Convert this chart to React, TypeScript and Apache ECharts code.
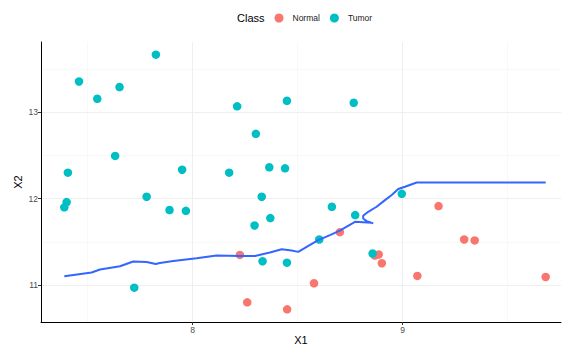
import { useEffect, useRef } from "react";
import * as echarts from "echarts";

// Sample measurements, one [X1, X2] pair per sample
const normalPoints: [number, number][] = [
  [8.225, 11.351],
  [8.26, 10.803],
  [8.45, 10.722],
  [8.578, 11.023],
  [8.701, 11.614],
  [9.171, 11.915],
  [9.293, 11.529],
  [9.343, 11.518],
  [8.868, 11.344],
  [8.886, 11.356],
  [8.901, 11.255],
  [9.07, 11.108],
  [9.681, 11.096],
];

const tumorPoints: [number, number][] = [
  [7.825, 13.664],
  [7.459, 13.354],
  [7.546, 13.154],
  [7.652, 13.29],
  [8.212, 13.067],
  [8.449, 13.131],
  [8.767, 13.108],
  [8.301, 12.749],
  [7.631, 12.494],
  [7.406, 12.301],
  [7.95, 12.335],
  [8.174, 12.301],
  [8.365, 12.363],
  [8.44, 12.351],
  [7.4, 11.961],
  [7.389, 11.9],
  [7.781, 12.023],
  [8.329, 12.023],
  [7.89, 11.869],
  [7.968, 11.86],
  [8.663, 11.907],
  [8.774, 11.811],
  [8.37, 11.776],
  [8.295, 11.691],
  [8.996, 12.056],
  [8.603, 11.529],
  [8.333, 11.278],
  [8.449, 11.261],
  [7.722, 10.973],
  [8.857, 11.367],
];

// Decision boundary between the two classes, traced in order
const boundary: [number, number][] = [
  [7.389, 11.104],
  [7.519, 11.147],
  [7.559, 11.182],
  [7.654, 11.22],
  [7.717, 11.274],
  [7.781, 11.27],
  [7.824, 11.247],
  [7.844, 11.258],
  [7.908, 11.281],
  [8.019, 11.313],
  [8.114, 11.344],
  [8.225, 11.339],
  [8.297, 11.339],
  [8.368, 11.379],
  [8.424, 11.417],
  [8.471, 11.402],
  [8.503, 11.386],
  [8.543, 11.444],
  [8.598, 11.521],
  [8.654, 11.579],
  [8.701, 11.631],
  [8.773, 11.733],
  [8.852, 11.721],
  [8.86, 11.715],
  [8.829, 11.741],
  [8.812, 11.772],
  [8.812, 11.803],
  [8.836, 11.849],
  [8.876, 11.907],
  [8.916, 11.984],
  [8.948, 12.042],
  [8.979, 12.112],
  [9.011, 12.138],
  [9.067, 12.187],
  [9.681, 12.187],
];

const xTicks = [8, 9];
const yTicks = [11, 12, 13];
const xMinor = [7.5, 8.5, 9.5];
const yMinor = [11.5, 12.5, 13.5];

const xRange = [7.278, 9.754];
const yRange = [10.576, 13.81];

const FONT = "'Liberation Sans', Arial, Helvetica, sans-serif";
const NORMAL_COLOR = "#F8766D";
const TUMOR_COLOR = "#00BFC4";

export default function App() {
  const ref = useRef<HTMLDivElement>(null);

  useEffect(() => {
    if (!ref.current) return;
    const chart = echarts.init(ref.current, undefined, { renderer: "svg" });

    const minorStyle = { color: "#f6f6f6", width: 0.8, type: "solid" };
    const majorStyle = { color: "#efefef", width: 1, type: "solid" };
    const gridLines = [
      ...xMinor.map((v) => ({ xAxis: v, lineStyle: minorStyle })),
      ...yMinor.map((v) => ({ yAxis: v, lineStyle: minorStyle })),
      ...xTicks.map((v) => ({ xAxis: v, lineStyle: majorStyle })),
      ...yTicks.map((v) => ({ yAxis: v, lineStyle: majorStyle })),
    ];

    chart.setOption({
      animation: false,
      backgroundColor: "#ffffff",
      textStyle: { fontFamily: FONT },
      grid: {
        left: 41,
        right: 1,
        top: 42,
        bottom: 25,
        containLabel: false,
        outerBoundsMode: "none",
      },
      legend: {
        data: ["Normal", "Tumor"],
        left: 274.5,
        top: 13.5,
        padding: 0,
        itemWidth: 9,
        itemHeight: 9,
        itemGap: 10,
        icon: "circle",
        textStyle: {
          fontFamily: FONT,
          fontSize: 8.5,
          color: "#1a1a1a",
          padding: [0, 0, 0, 4],
        },
      },
      graphic: [
        {
          type: "text",
          left: 237,
          top: 12,
          style: {
            text: "Class",
            fontFamily: FONT,
            fontSize: 11,
            fill: "#000000",
          },
        },
      ],
      xAxis: {
        type: "value",
        min: xRange[0],
        max: xRange[1],
        name: "X1",
        nameLocation: "middle",
        nameGap: 12,
        nameMoveOverlap: false,
        nameTextStyle: { fontFamily: FONT, fontSize: 11, lineHeight: 11, color: "#000000" },
        axisLine: { show: true, onZero: false, lineStyle: { color: "#000000", width: 1 } },
        axisTick: {
          show: true,
          length: 3,
          customValues: xTicks,
          lineStyle: { color: "#333333", width: 1 },
        },
        axisLabel: {
          customValues: xTicks,
          margin: 3,
          fontFamily: FONT,
          fontSize: 8.5,
          color: "#4d4d4d",
        },
        splitLine: { show: false },
      },
      yAxis: {
        type: "value",
        min: yRange[0],
        max: yRange[1],
        name: "X2",
        nameLocation: "middle",
        nameGap: 18,
        nameMoveOverlap: false,
        nameTextStyle: { fontFamily: FONT, fontSize: 11, lineHeight: 11, color: "#000000" },
        axisLine: { show: true, onZero: false, lineStyle: { color: "#000000", width: 1 } },
        axisTick: {
          show: true,
          length: 3,
          customValues: yTicks,
          lineStyle: { color: "#333333", width: 1 },
        },
        axisLabel: {
          customValues: yTicks,
          margin: 3,
          fontFamily: FONT,
          fontSize: 8.5,
          color: "#4d4d4d",
        },
        splitLine: { show: false },
      },
      series: [
        {
          name: "grid",
          type: "line",
          z: 0,
          data: [[xTicks[0], yTicks[0]]],
          showSymbol: false,
          lineStyle: { opacity: 0 },
          silent: true,
          markLine: {
            z: 0,
            silent: true,
            symbol: "none",
            label: { show: false },
            data: gridLines,
          },
        },
        {
          name: "Normal",
          type: "scatter",
          z: 2,
          data: normalPoints,
          symbolSize: 8.5,
          itemStyle: { color: NORMAL_COLOR, opacity: 1 },
        },
        {
          name: "Tumor",
          type: "scatter",
          z: 2,
          data: tumorPoints,
          symbolSize: 8.5,
          itemStyle: { color: TUMOR_COLOR, opacity: 1 },
        },
        {
          name: "boundary",
          type: "line",
          z: 3,
          data: boundary,
          showSymbol: false,
          smooth: false,
          lineStyle: { color: "#3366FF", width: 2 },
        },
      ],
    });

    return () => chart.dispose();
  }, []);

  return (
    <div
      ref={ref}
      style={{ position: "fixed", left: 0, top: 0, width: 562, height: 347, background: "#fff" }}
    />
  );
}
